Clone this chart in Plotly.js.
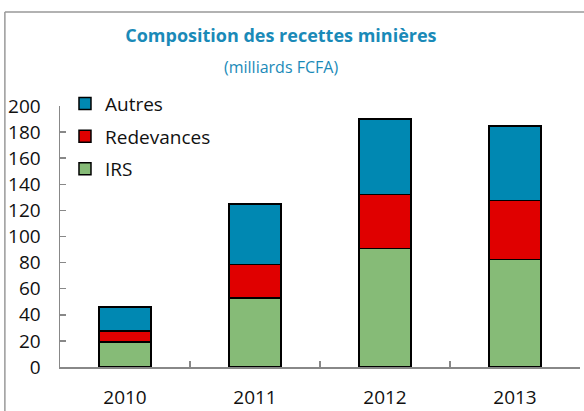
<!DOCTYPE html>
<html>
<head>
<meta charset="utf-8">
<script src="https://cdn.plot.ly/plotly-3.0.1.min.js"></script>
<style>html,body{margin:0;padding:0;background:#fff;}#chart{width:584px;height:411px;}</style>
</head>
<body>
<div id="chart"></div>
<script>
const years = ['2010', '2011', '2012', '2013'];
const irs = [19, 53, 91, 82.5];
const redevances = [8.5, 25.5, 41, 45];
const autres = [18.5, 46.5, 58, 57];
const yTicks = [0, 20, 40, 60, 80, 100, 120, 140, 160, 180, 200];

const FONT = 'Open Sans, Noto Sans, sans-serif';
const mk = (name, vals, color, grp, rank) => ({
  type: 'bar', name: name, x: years, y: vals, legendgroup: grp, legendrank: rank,
  marker: {color: color, line: {color: '#000', width: 1.5}},
  hoverinfo: 'skip'
});

const data = [
  mk('IRS', irs, '#86BB77', 'a', 3),
  mk('Redevances', redevances, '#E00000', 'b', 2),
  mk('Autres', autres, '#0088B2', 'c', 1)
];

const layout = {
  width: 584, height: 411,
  margin: {l: 60, r: 4, t: 106, b: 44},
  paper_bgcolor: '#fff', plot_bgcolor: '#fff',
  barmode: 'stack', bargap: 0.6,
  font: {family: FONT, size: 19, color: '#111'},
  title: {
    text: '<b>Composition des recettes minières</b>',
    font: {family: FONT, size: 18, color: '#1A8AB8'},
    x: 0.481, xref: 'container', xanchor: 'center',
    y: 0.912, yref: 'container', yanchor: 'middle'
  },
  annotations: [
    {text: '(milliards FCFA)', xref: 'paper', yref: 'paper', x: 0.425, y: 1.15,
     xanchor: 'center', yanchor: 'middle', showarrow: false,
     font: {family: FONT, size: 16, color: '#1A8AB8'}}
  ],
  showlegend: true,
  legend: {
    x: 0.0096, y: 1.082, xanchor: 'left', yanchor: 'top',
    traceorder: 'grouped', tracegroupgap: 5,
    font: {family: FONT, size: 19, color: '#111'},
    bgcolor: 'rgba(0,0,0,0)', itemwidth: 30
  },
  xaxis: {
    type: 'category', showline: true, linecolor: '#888', linewidth: 1.5,
    tickson: 'boundaries', ticks: 'inside', ticklen: 6, tickcolor: '#888', tickwidth: 1.5,
    showgrid: false, zeroline: false, ticklabelstandoff: 13,
    tickfont: {family: FONT, size: 19, color: '#111'}
  },
  yaxis: {
    range: [0, 200], tickvals: yTicks, ticktext: yTicks.map(String),
    showline: true, linecolor: '#888', linewidth: 1.5,
    ticks: 'inside', ticklen: 6, tickcolor: '#888', tickwidth: 1.5,
    showgrid: false, zeroline: false, ticklabelstandoff: 14,
    tickfont: {family: FONT, size: 19, color: '#111'}
  },
  shapes: [
    {type: 'line', xref: 'paper', yref: 'paper', x0: -0.106, x1: -0.106, y0: -0.2, y1: 1.36,
     line: {color: '#999', width: 1.5}},
    {type: 'line', xref: 'paper', yref: 'paper', x0: -0.106, x1: 1.02, y0: 1.36, y1: 1.36,
     line: {color: '#999', width: 1.5}}
  ]
};

Plotly.newPlot('chart', data, layout, {displayModeBar: false, staticPlot: true});
</script>
</body>
</html>
